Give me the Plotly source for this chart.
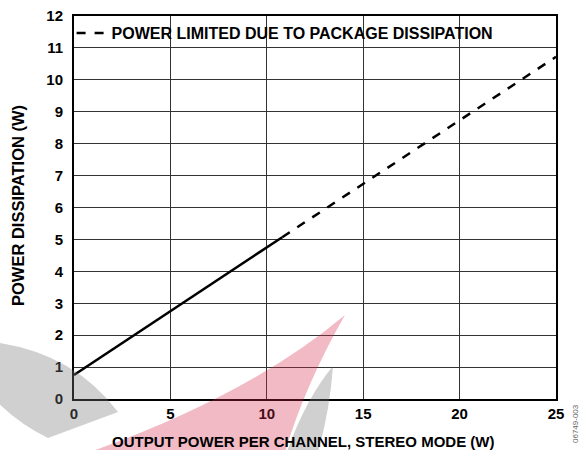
import plotly.graph_objects as go

# Data
solid_x = [0, 10.8]
solid_y = [0.75, 5.07]
dashed_x = [10.8, 25]
dashed_y = [5.07, 10.72]
legend_label = "POWER LIMITED DUE TO PACKAGE DISSIPATION"
x_ticks = [0, 5, 10, 15, 20, 25]
y_ticks = list(range(0, 13))
x_title = "OUTPUT POWER PER CHANNEL, STEREO MODE (W)"
y_title = "POWER DISSIPATION (W)"
code_label = "06749-003"

FONT = "Liberation Sans, Arial, sans-serif"

fig = go.Figure()
fig.add_trace(go.Scatter(x=solid_x, y=solid_y, mode="lines",
                         line=dict(color="black", width=2.5), showlegend=False))
fig.add_trace(go.Scatter(x=dashed_x, y=dashed_y, mode="lines",
                         line=dict(color="black", width=2.5, dash="dash"),
                         name="<b>" + legend_label + "</b>"))

# plot area in pixels
L, R, T, B = 74, 556, 16, 399
def px(x):
    return (x - L) / (R - L)
def py(y):
    return (B - y) / (B - T)

def P(x, y):
    return "%.4f %.4f" % (px(x), py(y))

gray_left = ("M " + P(0, 343) + " Q " + P(75, 355) + " " + P(118, 412) +
             " L " + P(48, 438) + " Q " + P(20, 425) + " " + P(-5, 400) + " Z")
pink = ("M " + P(90, 452) + " Q " + P(250, 395) + " " + P(345, 315) +
        " Q " + P(305, 385) + " " + P(285, 452) + " Z")
gray_thin = ("M " + P(333, 366) + " Q " + P(305, 400) + " " + P(287, 452) +
             " L " + P(318, 452) + " Q " + P(330, 410) + " " + P(333, 366) + " Z")

shapes = [
    # white box behind legend text (covers grid lines only)
    dict(type="rect", xref="paper", yref="paper", layer="between",
         x0=0.003, x1=px(505), y0=py(44), y1=py(21),
         fillcolor="white", line=dict(width=0)),
    dict(type="path", xref="paper", yref="paper", layer="above", path=gray_left,
         fillcolor="rgb(120,120,120)", opacity=0.35, line=dict(width=0)),
    dict(type="path", xref="paper", yref="paper", layer="above", path=pink,
         fillcolor="rgb(210,40,70)", opacity=0.32, line=dict(width=0)),
    dict(type="path", xref="paper", yref="paper", layer="above", path=gray_thin,
         fillcolor="rgb(120,120,120)", opacity=0.35, line=dict(width=0)),
]

axis_common = dict(showgrid=True, gridcolor="#333333", gridwidth=1,
                   showline=True, linecolor="black", linewidth=2, mirror=True,
                   ticks="", zeroline=False, automargin=False,
                   tickfont=dict(size=15, family=FONT, color="black"))

fig.update_layout(
    width=580, height=450,
    margin=dict(l=L, r=580 - R, t=T, b=450 - B, autoexpand=False),
    paper_bgcolor="white", plot_bgcolor="white",
    font=dict(family=FONT, color="black"),
    showlegend=True,
    legend=dict(x=-0.005, y=1.0, xanchor="left", yanchor="top",
                bgcolor="rgba(0,0,0,0)", borderwidth=0,
                font=dict(family=FONT, size=16, color="black"),
                tracegroupgap=0),
    xaxis=dict(range=[0, 25], tickvals=x_ticks,
               ticktext=["<b>%d</b>" % v for v in x_ticks], **axis_common),
    yaxis=dict(range=[0, 12], tickvals=y_ticks,
               ticktext=["<b>%d</b>" % v for v in y_ticks],
               ticklabelstandoff=6, **axis_common),
    shapes=shapes,
    annotations=[
        dict(text="<b>" + x_title + "</b>", x=px(303), y=py(441), xref="paper", yref="paper",
             xanchor="center", yanchor="middle",
             showarrow=False, font=dict(size=15, family=FONT, color="black")),
        dict(text="<b>" + y_title + "</b>", x=px(18), y=py(206), xref="paper", yref="paper",
             xanchor="center", yanchor="middle",
             showarrow=False, textangle=-90, font=dict(size=16.5, family=FONT, color="black")),
        dict(text=code_label, x=px(575), y=py(424), xref="paper", yref="paper",
             xanchor="center", yanchor="middle",
             showarrow=False, textangle=-90,
             font=dict(size=8, color="#666666", family=FONT)),
    ],
)

fig.write_html("out.html", config={"displayModeBar": False},
               post_script="document.body.style.margin='0';")
